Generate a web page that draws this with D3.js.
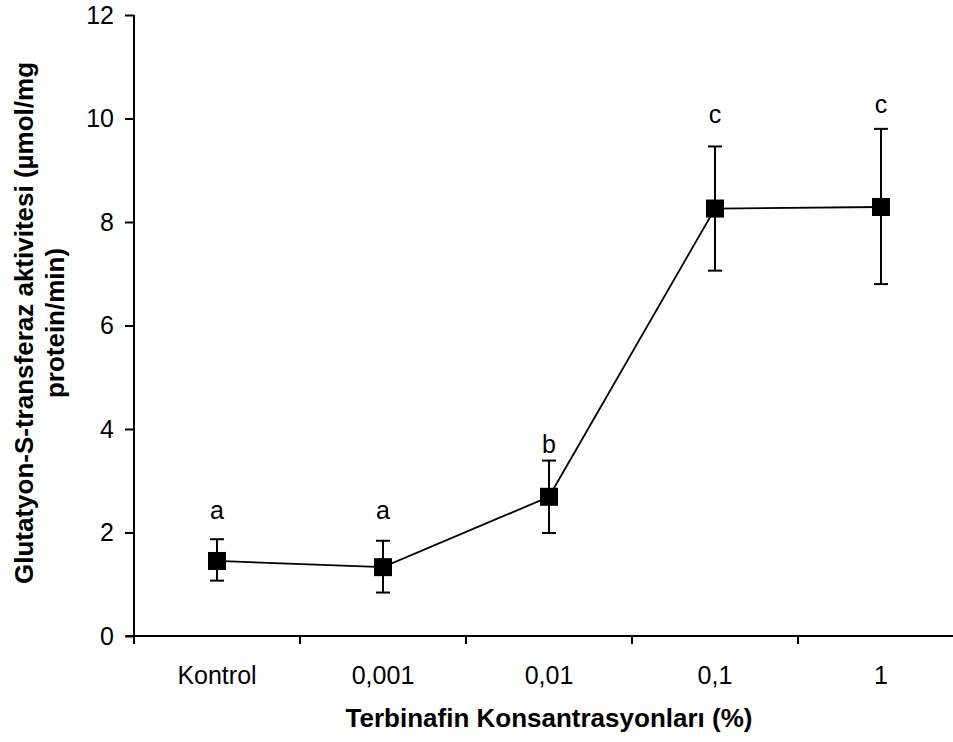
<!DOCTYPE html>
<html>
<head>
<meta charset="utf-8">
<script src="https://cdn.jsdelivr.net/npm/d3@7"></script>
<style>
    body { margin: 0; background: #fff; }
    text { font-family: "Liberation Sans", Arial, sans-serif; fill: #000; }
</style>
</head>
<body>
<svg id="chart" width="953" height="742"></svg>
<script>
// values
const categories = ["Kontrol", "0,001", "0,01", "0,1", "1"];
const means = [1.45, 1.33, 2.69, 8.26, 8.29];
const errLow = [1.07, 0.84, 1.99, 7.06, 6.80];
const errHigh = [1.87, 1.84, 3.39, 9.46, 9.80];
const groupLetters = ["a", "a", "b", "c", "c"];
const letterLevels = [2.26, 2.26, 3.54, 9.91, 10.11];
const yTicks = [0, 2, 4, 6, 8, 10, 12];

const points = categories.map((c, i) => ({
    cat: c, mean: means[i], lo: errLow[i], hi: errHigh[i],
    letter: groupLetters[i], letterY: letterLevels[i]
}));

const svg = d3.select("#chart");
const fontSize = 25;
const titleSize = 26;

let x = d3.scaleBand().domain(categories).range([134, 964]);
let y = d3.scaleLinear().domain([0, 12]).range([636, 15]);
const cx = (d) => x(d.cat) + x.bandwidth() / 2;

// y axis
let yAxis = svg.append("g")
    .attr("transform", "translate(134,0)")
    .call(d3.axisLeft(y).tickValues(yTicks).tickSize(9).tickPadding(11).tickFormat(d3.format("d")));
yAxis.select(".domain").attr("d", "M0," + y(12) + "V" + y(0)).attr("stroke-width", 2);
yAxis.selectAll(".tick line").attr("stroke-width", 2);
yAxis.selectAll(".tick text").style("font-size", fontSize + "px").attr("font-family", null);

// x axis, ticks sit on the category boundaries
let xAxis = svg.append("g").attr("transform", "translate(0,636)");
xAxis.append("line")
    .attr("x1", 126).attr("x2", 964)
    .attr("stroke", "#000").attr("stroke-width", 2);
xAxis.selectAll("line.tk")
    .data(categories)
    .join("line")
    .attr("class", "tk")
    .attr("x1", (c) => x(c)).attr("x2", (c) => x(c))
    .attr("y1", 0).attr("y2", 8)
    .attr("stroke", "#000").attr("stroke-width", 2);
xAxis.selectAll("text")
    .data(categories)
    .join("text")
    .attr("x", (c) => x(c) + x.bandwidth() / 2)
    .attr("y", 48)
    .attr("text-anchor", "middle")
    .style("font-size", fontSize + "px")
    .text((c) => c);

// connecting line
svg.append("path")
    .datum(points)
    .attr("fill", "none")
    .attr("stroke", "#000")
    .attr("stroke-width", 1.8)
    .attr("d", d3.line().x(cx).y((d) => y(d.mean)));

// error bars
let eb = svg.append("g").attr("stroke", "#000").attr("stroke-width", 2);
eb.selectAll("line.v")
    .data(points)
    .join("line")
    .attr("class", "v")
    .attr("x1", cx).attr("x2", cx)
    .attr("y1", (d) => y(d.lo)).attr("y2", (d) => y(d.hi));
eb.selectAll("line.top")
    .data(points)
    .join("line")
    .attr("class", "top")
    .attr("x1", (d) => cx(d) - 7).attr("x2", (d) => cx(d) + 7)
    .attr("y1", (d) => y(d.hi)).attr("y2", (d) => y(d.hi));
eb.selectAll("line.bot")
    .data(points)
    .join("line")
    .attr("class", "bot")
    .attr("x1", (d) => cx(d) - 7).attr("x2", (d) => cx(d) + 7)
    .attr("y1", (d) => y(d.lo)).attr("y2", (d) => y(d.lo));

// square markers
const sq = 18;
svg.selectAll("rect.mk")
    .data(points)
    .join("rect")
    .attr("class", "mk")
    .attr("x", (d) => cx(d) - sq / 2)
    .attr("y", (d) => y(d.mean) - sq / 2)
    .attr("width", sq).attr("height", sq)
    .attr("fill", "#000");

// group letters
svg.selectAll("text.lt")
    .data(points)
    .join("text")
    .attr("class", "lt")
    .attr("x", cx)
    .attr("y", (d) => y(d.letterY))
    .attr("text-anchor", "middle")
    .style("font-size", fontSize + "px")
    .text((d) => d.letter);

// axis titles
svg.append("text")
    .attr("x", 549).attr("y", 727)
    .attr("text-anchor", "middle")
    .attr("font-weight", "bold")
    .style("font-size", titleSize + "px")
    .text("Terbinafin Konsantrasyonları (%)");

let yt = svg.append("text")
    .attr("transform", "translate(0,323) rotate(-90)")
    .attr("text-anchor", "middle")
    .attr("font-weight", "bold")
    .style("font-size", titleSize + "px");
yt.append("tspan").attr("x", 0).attr("y", 33).text("Glutatyon-S-transferaz aktivitesi (µmol/mg");
yt.append("tspan").attr("x", 0).attr("y", 64).text("protein/min)");
</script>
</body>
</html>
